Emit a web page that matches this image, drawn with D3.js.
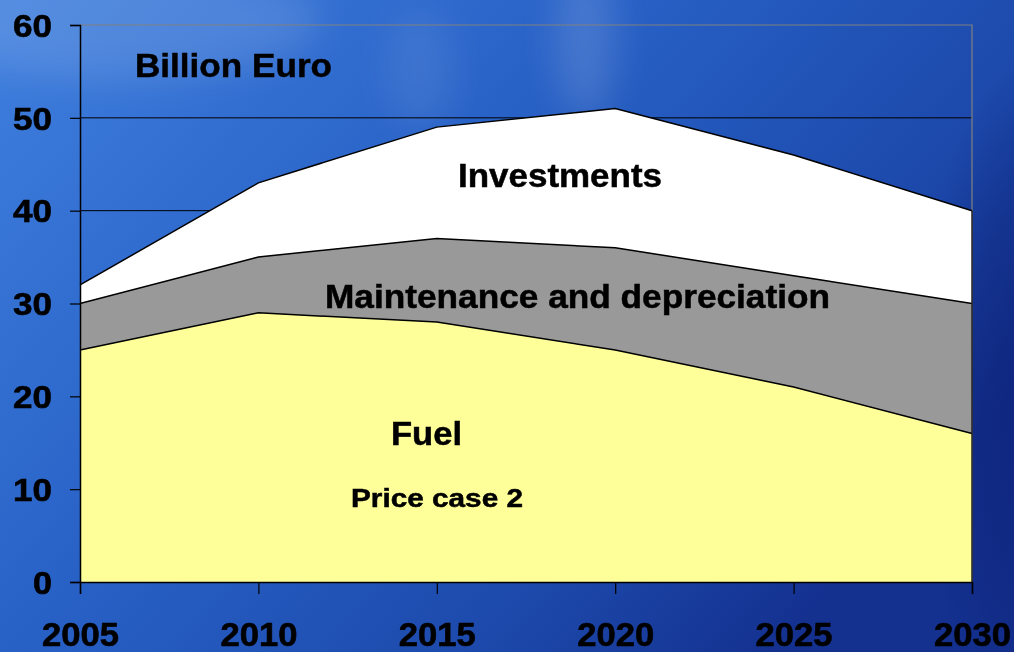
<!DOCTYPE html>
<html>
<head>
<meta charset="utf-8">
<script src="https://cdn.jsdelivr.net/npm/d3@7"></script>
<style>
  body { margin: 0; overflow: hidden; }
  svg { display: block; font-family: "Liberation Sans", Arial, sans-serif; font-weight: bold; }
</style>
</head>
<body>
<svg id="chart" width="1014" height="652"></svg>
<script>
// data (billion euro per year)
const years = [2005, 2010, 2015, 2020, 2025, 2030];
const fuel = [25, 29, 28, 25, 21, 16];
const maintenance = [5, 6, 9, 11, 12, 14];
const investments = [2, 8, 12, 15, 13, 10];
const yTicks = [0, 10, 20, 30, 40, 50, 60];
const seriesNames = ["fuel", "maintenance", "investments"];
const seriesColors = ["#ffff99", "#999999", "#ffffff"];

const W = 1014, H = 652;
const plotLeft = 80, plotRight = 972, plotTop = 25, plotBottom = 582;

const svg = d3.select("#chart");

// background: blue gradient with a few soft lighter streaks
const defs = svg.append("defs");
const grad = defs.append("linearGradient")
    .attr("id", "bg").attr("x1", 0).attr("y1", 0).attr("x2", 1).attr("y2", 0.6);
grad.append("stop").attr("offset", 0).attr("stop-color", "#3f7fde");
grad.append("stop").attr("offset", 0.45).attr("stop-color", "#2861c6");
grad.append("stop").attr("offset", 0.8).attr("stop-color", "#1c48aa");
grad.append("stop").attr("offset", 1).attr("stop-color", "#143190");
const edge = defs.append("radialGradient").attr("id", "edge");
edge.append("stop").attr("offset", 0).attr("stop-color", "#0a1c6e").attr("stop-opacity", 0.55);
edge.append("stop").attr("offset", 0.6).attr("stop-color", "#0a1c6e").attr("stop-opacity", 0.3);
edge.append("stop").attr("offset", 1).attr("stop-color", "#0a1c6e").attr("stop-opacity", 0);
defs.append("filter").attr("id", "blur")
    .attr("x", "-50%").attr("y", "-50%").attr("width", "200%").attr("height", "200%")
  .append("feGaussianBlur").attr("stdDeviation", 18);

svg.append("rect").attr("width", W).attr("height", H).attr("fill", "url(#bg)");
svg.append("ellipse").attr("cx", 1030).attr("cy", 400).attr("rx", 110).attr("ry", 340)
    .attr("fill", "url(#edge)");

const glow = svg.append("g").attr("filter", "url(#blur)");
glow.append("ellipse").attr("cx", 120).attr("cy", 20).attr("rx", 200).attr("ry", 60)
    .attr("fill", "#ffffff").attr("opacity", 0.12);
glow.append("ellipse").attr("cx", 585).attr("cy", 40).attr("rx", 30).attr("ry", 80)
    .attr("fill", "#ffffff").attr("opacity", 0.14);
glow.append("ellipse").attr("cx", 420).attr("cy", 70).attr("rx", 35).attr("ry", 60)
    .attr("fill", "#ffffff").attr("opacity", 0.08);

// scales
const x = d3.scaleLinear().domain([2005, 2030]).range([plotLeft, plotRight]);
const y = d3.scaleLinear().domain([0, 60]).range([plotBottom, plotTop]);

// stacked series
const rows = years.map((yr, i) => ({
    year: yr, fuel: fuel[i], maintenance: maintenance[i], investments: investments[i]
}));
const stacked = d3.stack().keys(seriesNames)(rows);

// gridlines
svg.append("g")
    .selectAll("line")
    .data(yTicks.filter(t => t > 0 && t < 60))
    .join("line")
    .attr("x1", plotLeft).attr("x2", plotRight)
    .attr("y1", d => y(d)).attr("y2", d => y(d))
    .attr("stroke", "#000").attr("stroke-width", 1);

// plot border (top and right, gray)
svg.append("path")
    .attr("d", `M${plotLeft},${y(60)}H${plotRight}V${plotBottom}`)
    .attr("fill", "none").attr("stroke", "#808080").attr("stroke-width", 1.2);

const area = d3.area()
    .x(d => x(d.data.year))
    .y0(d => y(d[0]))
    .y1(d => y(d[1]));
const topLine = d3.line()
    .x(d => x(d.data.year))
    .y(d => y(d[1]));

svg.append("g")
    .selectAll("path")
    .data(stacked)
    .join("path")
    .attr("d", area)
    .attr("fill", (d, i) => seriesColors[i]);

svg.append("g")
    .selectAll("path")
    .data(stacked)
    .join("path")
    .attr("d", topLine)
    .attr("fill", "none")
    .attr("stroke", "#000")
    .attr("stroke-width", 1.5);

// right edge of the filled area
svg.append("line")
    .attr("x1", plotRight).attr("x2", plotRight)
    .attr("y1", y(stacked[2][5][1])).attr("y2", plotBottom)
    .attr("stroke", "#222").attr("stroke-width", 1.5);

// axes
const yAxis = svg.append("g")
    .attr("transform", `translate(${plotLeft},0)`)
    .call(d3.axisLeft(y).tickValues(yTicks).tickSize(10).tickPadding(0));
yAxis.select(".domain").attr("stroke", "#000").attr("stroke-width", 1.5);
yAxis.selectAll(".tick line").attr("stroke", "#000").attr("stroke-width", 1.2);
yAxis.selectAll(".tick text")
    .attr("x", -28)
    .attr("dy", "0.36em")
    .attr("font-size", 31)
    .attr("font-weight", "bold")
    .attr("fill", "#000")
    .attr("stroke", "#000").attr("stroke-width", 0.6)
    .attr("font-family", "Liberation Sans, Arial, sans-serif")
    .attr("text-anchor", "end")
    .attr("textLength", d => d < 10 ? 19 : 39)
    .attr("lengthAdjust", "spacingAndGlyphs");

const xAxis = svg.append("g")
    .attr("transform", `translate(0,${plotBottom})`)
    .call(d3.axisBottom(x).tickValues(years).tickFormat(d3.format("d")).tickSize(12).tickPadding(0));
xAxis.select(".domain").attr("stroke", "#000").attr("stroke-width", 1.5);
xAxis.selectAll(".tick line").attr("stroke", "#000").attr("stroke-width", 1.2);
xAxis.selectAll(".tick text")
    .attr("y", 64)
    .attr("dy", 0)
    .attr("font-size", 33)
    .attr("font-weight", "bold")
    .attr("fill", "#000")
    .attr("stroke", "#000").attr("stroke-width", 0.6)
    .attr("font-family", "Liberation Sans, Arial, sans-serif")
    .attr("textLength", 77)
    .attr("lengthAdjust", "spacingAndGlyphs");

// annotations
const labels = [
    { text: "Billion Euro", x: 135, y: 77, size: 33, len: 197 },
    { text: "Investments", x: 458, y: 187, size: 33, len: 204 },
    { text: "Maintenance and depreciation", x: 325, y: 308, size: 33, len: 505 },
    { text: "Fuel", x: 391, y: 445, size: 33, len: 71 },
    { text: "Price case 2", x: 351, y: 507, size: 25, len: 172 }
];
svg.append("g")
    .selectAll("text")
    .data(labels)
    .join("text")
    .attr("x", d => d.x)
    .attr("y", d => d.y)
    .attr("font-size", d => d.size)
    .attr("textLength", d => d.len)
    .attr("lengthAdjust", "spacingAndGlyphs")
    .attr("fill", "#000")
    .attr("stroke", "#000").attr("stroke-width", 0.5)
    .text(d => d.text);
</script>
</body>
</html>
